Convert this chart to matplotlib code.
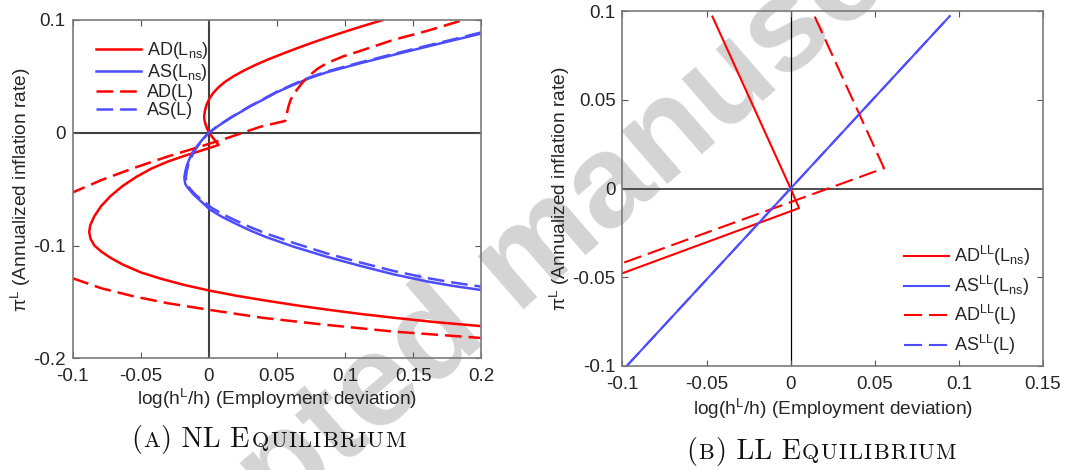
import matplotlib.pyplot as plt
from matplotlib.offsetbox import TextArea, HPacker, AnchoredOffsetbox

plt.rcParams['font.family'] = ['Liberation Sans', 'DejaVu Sans']
plt.rcParams['mathtext.fontset'] = 'custom'
plt.rcParams['mathtext.rm'] = 'Liberation Sans'
plt.rcParams['mathtext.it'] = 'Liberation Sans:italic'
plt.rcParams['mathtext.bf'] = 'Liberation Sans:bold'
plt.rcParams['axes.unicode_minus'] = False
plt.rcParams['lines.scale_dashes'] = False

# ---- panel A: nonlinear equilibrium curves (x = employment dev, y = inflation)
ad_ns_x = [0.1278, 0.1140, 0.1008, 0.0882, 0.0762, 0.0648, 0.0540, 0.0435, 0.0340, 0.0255,
           0.0180, 0.0117, 0.0068, 0.0030, 0.0003, -0.0016, -0.0028, -0.0035, -0.0030,
           -0.0020, 0.0000, 0.0072, -0.0060, -0.0167, -0.0300, -0.0422, -0.0530, -0.0630,
           -0.0720, -0.0790, -0.0840, -0.0870, -0.0878, -0.0868, -0.0840, -0.0789, -0.0720,
           -0.0630, -0.0495, -0.0350, -0.0180, 0.0006, 0.0200, 0.0400, 0.0640, 0.0865,
           0.1100, 0.1353, 0.1650, 0.2000]
ad_ns_y = [0.1000, 0.0950, 0.0900, 0.0850, 0.0800, 0.0750, 0.0700, 0.0650, 0.0600, 0.0550,
           0.0500, 0.0450, 0.0400, 0.0350, 0.0300, 0.0250, 0.0200, 0.0140, 0.0100,
           0.0060, 0.0000, -0.0108, -0.0160, -0.0200, -0.0255, -0.0318, -0.0390, -0.0470,
           -0.0560, -0.0650, -0.0740, -0.0820, -0.0880, -0.0940, -0.1000, -0.1054, -0.1110,
           -0.1170, -0.1240, -0.1295, -0.1350, -0.1400, -0.1445, -0.1485, -0.1530, -0.1568,
           -0.1605, -0.1640, -0.1678, -0.1715]

as_ns_x = [0.2000, 0.1800, 0.1598, 0.1353, 0.1109, 0.0865, 0.0740, 0.0620, 0.0500, 0.0400,
           0.0300, 0.0238, 0.0170, 0.0116, 0.0050, 0.0000, -0.0040, -0.0079, -0.0115,
           -0.0140, -0.0160, -0.0173, -0.0180, -0.0173, -0.0150, -0.0110, -0.0055, 0.0006,
           0.0095, 0.0190, 0.0300, 0.0420, 0.0620, 0.0865, 0.1109, 0.1353, 0.1598, 0.1800,
           0.2000]
as_ns_y = [0.0880, 0.0822, 0.0763, 0.0690, 0.0616, 0.0536, 0.0485, 0.0424, 0.0360, 0.0295,
           0.0232, 0.0187, 0.0140, 0.0098, 0.0045, 0.0000, -0.0050, -0.0108, -0.0165,
           -0.0226, -0.0285, -0.0345, -0.0400, -0.0455, -0.0495, -0.0550, -0.0611, -0.0680,
           -0.0745, -0.0802, -0.0865, -0.0925, -0.1010, -0.1100, -0.1180, -0.1255, -0.1318,
           -0.1360, -0.1395]

ad_l_up_x = [0.1840, 0.1598, 0.1353, 0.1109, 0.0980, 0.0865, 0.0800, 0.0742, 0.0690, 0.0645,
             0.0615, 0.0595, 0.0580, 0.0571, 0.0565, 0.0560, 0.0375, 0.0140, -0.0055, -0.0300,
             -0.0544, -0.0789, -0.1000]
ad_l_up_y = [0.0990, 0.0902, 0.0823, 0.0725, 0.0675, 0.0616, 0.0570, 0.0512, 0.0450, 0.0380,
             0.0330, 0.0276, 0.0215, 0.0158, 0.0130, 0.0105, 0.0052, -0.0045, -0.0120, -0.0210,
             -0.0310, -0.0420, -0.0530]
ad_l_lo_x = [-0.1000, -0.0789, -0.0544, -0.0300, 0.0006, 0.0400, 0.0865, 0.1353, 0.2000]
ad_l_lo_y = [-0.1290, -0.1379, -0.1453, -0.1512, -0.1571, -0.1642, -0.1704, -0.1763, -0.1820]

as_l_x = [0.2000, 0.1800, 0.1598, 0.1353, 0.1109, 0.0865, 0.0740, 0.0620, 0.0500, 0.0400,
          0.0300, 0.0238, 0.0170, 0.0116, 0.0050, 0.0000, -0.0038, -0.0075, -0.0108,
          -0.0132, -0.0151, -0.0163, -0.0169, -0.0162, -0.0139, -0.0098, -0.0043, 0.0020,
          0.0105, 0.0200, 0.0310, 0.0430, 0.0630, 0.0865, 0.1109, 0.1353, 0.1598, 0.1800,
          0.2000]
as_l_y = [0.0890, 0.0830, 0.0771, 0.0698, 0.0623, 0.0543, 0.0491, 0.0430, 0.0365, 0.0299,
          0.0235, 0.0190, 0.0142, 0.0100, 0.0046, 0.0000, -0.0050, -0.0108, -0.0165,
          -0.0226, -0.0285, -0.0345, -0.0400, -0.0455, -0.0495, -0.0550, -0.0605, -0.0665,
          -0.0725, -0.0780, -0.0840, -0.0898, -0.0980, -0.1070, -0.1150, -0.1225, -0.1288,
          -0.1330, -0.1365]

a_xticks = [-0.1, -0.05, 0, 0.05, 0.1, 0.15, 0.2]
a_xticklabels = ['-0.1', '-0.05', '0', '0.05', '0.1', '0.15', '0.2']
a_yticks = [-0.2, -0.1, 0, 0.1]
a_yticklabels = ['-0.2', '-0.1', '0', '0.1']
a_labels = ['AD(L$_{\\mathrm{ns}}$)', 'AS(L$_{\\mathrm{ns}}$)', 'AD(L)', 'AS(L)']

# ---- panel B: log-linear equilibrium lines
ad_ll_ns_x = [-0.0465, 0.0000, 0.0050, -0.1000]
ad_ll_ns_y = [0.0970, 0.0000, -0.0110, -0.0477]
as_ll_ns_x = [-0.0975, 0.0946]
as_ll_ns_y = [-0.1000, 0.0973]
ad_ll_l_x = [0.0143, 0.0555, -0.1000]
ad_ll_l_y = [0.0970, 0.0115, -0.0420]
as_ll_l_x = [-0.0975, 0.0946]
as_ll_l_y = [-0.1000, 0.0973]

b_xticks = [-0.1, -0.05, 0, 0.05, 0.1, 0.15]
b_xticklabels = ['-0.1', '-0.05', '0', '0.05', '0.1', '0.15']
b_yticks = [-0.1, -0.05, 0, 0.05, 0.1]
b_yticklabels = ['-0.1', '-0.05', '0', '0.05', '0.1']
b_labels = ['AD$^{\\mathrm{LL}}$(L$_{\\mathrm{ns}}$)', 'AS$^{\\mathrm{LL}}$(L$_{\\mathrm{ns}}$)',
            'AD$^{\\mathrm{LL}}$(L)', 'AS$^{\\mathrm{LL}}$(L)']

RED = '#ff0000'
BLUE = '#4d4dff'
TXT = '#262626'
XLABEL = 'log(h$^{\\mathrm{L}}$/h) (Employment deviation)'
YLABEL = '\u03c0$^{\\mathrm{L}}$ (Annualized inflation rate)'

fig = plt.figure(figsize=(10.65, 4.7), dpi=100)

# watermark behind both panels
fig.text(0.493, 0.442, 'Accepted manuscript', rotation=41, fontsize=95, fontweight='bold',
         color='#d4d4d4', ha='center', va='center', zorder=-1)

ax1 = fig.add_axes([0.0681, 0.2377, 0.3840, 0.7198])
ax2 = fig.add_axes([0.5845, 0.2213, 0.3948, 0.7547])


def style(ax):
    ax.set_facecolor('none')
    for s in ax.spines.values():
        s.set_color('#7a7a7a')
        s.set_linewidth(1.2)
    ax.tick_params(direction='in', top=True, right=True, length=4, width=0.8,
                   color='#555555', labelsize=13.5, labelcolor=TXT, pad=5)
    ax.tick_params(axis='x', pad=7)


# panel A
style(ax1)
ax1.axhline(0, color='#404040', lw=1.5, zorder=1)
ax1.axvline(0, color='#404040', lw=1.5, zorder=1)
h1, = ax1.plot(ad_ns_x, ad_ns_y, color=RED, lw=1.8)
h2, = ax1.plot(as_ns_x, as_ns_y, color=BLUE, lw=1.8)
h3, = ax1.plot(ad_l_up_x, ad_l_up_y, color=RED, lw=1.8, dashes=(12, 5))
ax1.plot(ad_l_lo_x, ad_l_lo_y, color=RED, lw=1.8, dashes=(12, 5))
h4, = ax1.plot(as_l_x, as_l_y, color=BLUE, lw=1.8, dashes=(12, 5))
ax1.set_xlim(-0.1, 0.2)
ax1.set_ylim(-0.2, 0.1)
ax1.set_xticks(a_xticks, a_xticklabels)
ax1.set_yticks(a_yticks, a_yticklabels)
ax1.legend([h1, h2, h3, h4], a_labels, loc='upper left', bbox_to_anchor=(0.058, 0.94),
           frameon=False, fontsize=13, handlelength=2.5, handletextpad=0.3,
           labelspacing=0.05, borderaxespad=0, borderpad=0, labelcolor=TXT)

# panel B
style(ax2)
ax2.axhline(0, color='#404040', lw=1.3, zorder=1)
ax2.axvline(0, color='black', lw=0.9, zorder=1)
g1, = ax2.plot(ad_ll_ns_x, ad_ll_ns_y, color=RED, lw=1.5)
g2, = ax2.plot(as_ll_ns_x, as_ll_ns_y, color=BLUE, lw=1.5)
g3, = ax2.plot(ad_ll_l_x, ad_ll_l_y, color=RED, lw=1.5, dashes=(13, 5))
g4, = ax2.plot(as_ll_l_x, as_ll_l_y, color=BLUE, lw=1.5, dashes=(13, 5))
ax2.set_xlim(-0.1, 0.15)
ax2.set_ylim(-0.1, 0.1)
ax2.set_xticks(b_xticks, b_xticklabels)
ax2.set_yticks(b_yticks, b_yticklabels)
ax2.legend([g1, g2, g3, g4], b_labels, loc='upper left', bbox_to_anchor=(0.669, 0.343),
           frameon=False, fontsize=13, handlelength=2.5, handletextpad=0.3,
           labelspacing=0.3, borderaxespad=0, borderpad=0, labelcolor=TXT)

# axis labels
fig.text(0.260, 0.151, XLABEL, fontsize=13.8, color=TXT, ha='center', va='center')
fig.text(0.782, 0.130, XLABEL, fontsize=13.8, color=TXT, ha='center', va='center')
fig.text(0.0194, 0.596, YLABEL, fontsize=13.8, color=TXT, ha='center', va='center',
         rotation=90)
fig.text(0.526, 0.598, YLABEL, fontsize=13.8, color=TXT, ha='center', va='center',
         rotation=90)


# small-caps style captions below each panel
def caption(parts, x, y, big=20.5, small=16):
    boxes = []
    for s, is_small in parts:
        if is_small:
            letters = [TextArea(c, textprops=dict(family='cmr10', size=small, color='#111111'))
                       for c in s]
            boxes.append(HPacker(children=letters, align='baseline', pad=0, sep=1))
        else:
            boxes.append(TextArea(s, textprops=dict(family='cmr10', size=big, color='#111111')))
    pack = HPacker(children=boxes, align='baseline', pad=0, sep=1)
    box = AnchoredOffsetbox(loc='center', child=pack, bbox_to_anchor=(x, y),
                            bbox_transform=fig.transFigure, frameon=False,
                            pad=0, borderpad=0)
    fig.add_artist(box)


caption([('(', False), ('A', True), (') NL E', False), ('QUILIBRIUM', True)], 0.2518, 0.064)
caption([('(', False), ('B', True), (') LL E', False), ('QUILIBRIUM', True)], 0.771, 0.040)

fig.savefig('out.png', dpi=100)
